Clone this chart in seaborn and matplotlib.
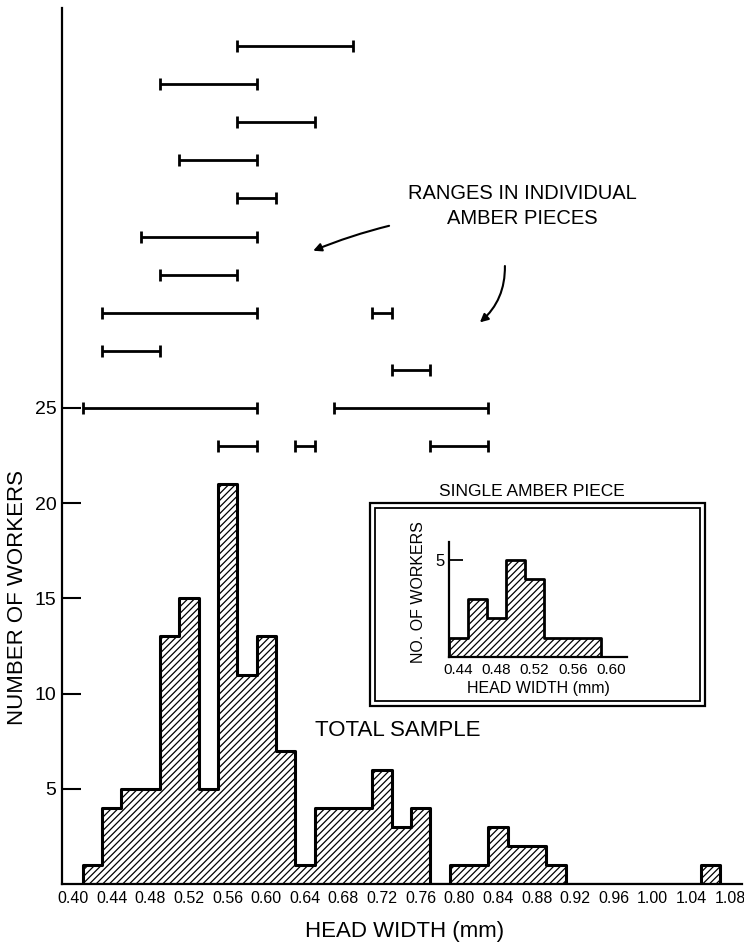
import numpy as np
import pandas as pd
import seaborn as sns
import matplotlib.pyplot as plt
from matplotlib.patches import Rectangle

# total sample: bin centres (mm) and number of workers
bin_centres = [0.42, 0.44, 0.46, 0.48, 0.50, 0.52, 0.54, 0.56, 0.58, 0.60, 0.62,
               0.64, 0.66, 0.68, 0.70, 0.72, 0.74, 0.76, 0.78, 0.80, 0.82, 0.84,
               0.86, 0.88, 0.90, 0.92, 0.94, 0.96, 0.98, 1.00, 1.02, 1.04, 1.06]
counts = [1, 4, 5, 5, 13, 15, 5, 21, 11, 13, 7,
          1, 4, 4, 4, 6, 3, 4, 0, 1, 1, 3,
          2, 2, 1, 0, 0, 0, 0, 0, 0, 0, 1]

# single amber piece
single_centres = [0.44, 0.46, 0.48, 0.50, 0.52, 0.54, 0.56, 0.58]
single_counts = [1, 3, 2, 5, 4, 1, 1, 1]

# ranges in individual amber pieces
range_row = [44, 42, 40, 38, 36, 34, 32, 30, 30, 28, 27, 25, 25, 23, 23, 23]
range_lo = [0.57, 0.49, 0.57, 0.51, 0.57, 0.47, 0.49, 0.43, 0.71, 0.43, 0.73, 0.41, 0.67, 0.55, 0.63, 0.77]
range_hi = [0.69, 0.59, 0.65, 0.59, 0.61, 0.59, 0.57, 0.59, 0.73, 0.49, 0.77, 0.59, 0.83, 0.59, 0.65, 0.83]

x_ticks = [0.40, 0.44, 0.48, 0.52, 0.56, 0.60, 0.64, 0.68, 0.72, 0.76, 0.80, 0.84,
           0.88, 0.92, 0.96, 1.00, 1.04, 1.08]
x_ticklabels = ['0.40', '0.44', '0.48', '0.52', '0.56', '0.60', '0.64', '0.68', '0.72',
                '0.76', '0.80', '0.84', '0.88', '0.92', '0.96', '1.00', '1.04', '1.08']
inset_ticks = [0.44, 0.48, 0.52, 0.56, 0.60]
inset_ticklabels = ['0.44', '0.48', '0.52', '0.56', '0.60']

sns.set_theme(style='white')
plt.rcParams['font.family'] = ['Liberation Sans', 'DejaVu Sans']
plt.rcParams['hatch.linewidth'] = 0.9
for k in ['text.color', 'axes.labelcolor', 'xtick.color', 'ytick.color']:
    plt.rcParams[k] = 'black'

df = pd.DataFrame({'width': bin_centres, 'n': counts})
df_single = pd.DataFrame({'width': single_centres, 'n': single_counts})
df_ranges = pd.DataFrame({'row': range_row, 'lo': range_lo, 'hi': range_hi})

fig = plt.figure(figsize=(7.44, 9.49), dpi=100)
ax = fig.add_axes([0.0833, 0.0685, 0.914, 0.923])

sns.histplot(data=df, x='width', weights='n', binwidth=0.02, binrange=(0.41, 1.07),
             element='step', fill=True, color='white', edgecolor='black', linewidth=2.2,
             hatch='/////', alpha=1, ax=ax)

# range bars
mid = (df_ranges['lo'] + df_ranges['hi']) / 2
half = (df_ranges['hi'] - df_ranges['lo']) / 2
ax.errorbar(mid, df_ranges['row'], xerr=half, fmt='none', ecolor='black',
            elinewidth=2, capsize=4, capthick=2)

ax.set_xlim(0.3886, 1.0925)
ax.set_ylim(0, 46)
sns.despine(ax=ax)
for s in ['left', 'bottom']:
    ax.spines[s].set_linewidth(1.6)
    ax.spines[s].set_color('black')

ax.set_yticks([5, 10, 15, 20, 25])
ax.set_yticklabels(['5', '10', '15', '20', '25'], fontsize=14)
ax.tick_params(axis='y', direction='in', length=14, width=1.5, pad=4, left=True)
ax.set_xticks(x_ticks)
ax.set_xticklabels(x_ticklabels, fontsize=11.5)
ax.tick_params(axis='x', length=0, pad=5)

ax.set_xlabel('HEAD WIDTH (mm)', fontsize=16)
ax.set_ylabel('NUMBER OF WORKERS', fontsize=16)
ax.yaxis.label.set_verticalalignment('center')
ax.xaxis.label.set_verticalalignment('center')
ax.yaxis.set_label_coords(-0.066, 0.3276)
ax.xaxis.set_label_coords(0.504, -0.0537)

ax.text(0.865, 35.6, 'RANGES IN INDIVIDUAL\nAMBER PIECES', ha='center', va='center',
        fontsize=14.5, linespacing=1.4)
ax.text(0.6505, 8.06, 'TOTAL SAMPLE', ha='left', va='center', fontsize=16)

ax.annotate('', xy=(0.646, 33.2), xytext=(0.730, 34.6),
            arrowprops=dict(arrowstyle='-|>', color='black', lw=1.5,
                            connectionstyle='arc3,rad=0.04', mutation_scale=12))
ax.annotate('', xy=(0.819, 29.4), xytext=(0.847, 32.6),
            arrowprops=dict(arrowstyle='-|>', color='black', lw=1.5,
                            connectionstyle='arc3,rad=-0.25', mutation_scale=12))

# inset: single amber piece
fig.add_artist(Rectangle((0.4973, 0.2561), 0.4503, 0.2139, transform=fig.transFigure,
                         fill=False, edgecolor='black', linewidth=1.6))
fig.add_artist(Rectangle((0.5040, 0.2613), 0.4368, 0.2034, transform=fig.transFigure,
                         fill=False, edgecolor='black', linewidth=1.3))
fig.text(0.715, 0.4826, 'SINGLE AMBER PIECE', ha='center', va='center', fontsize=12.5)

ax_in = fig.add_axes([0.6035, 0.3077, 0.2392, 0.1212])
sns.histplot(data=df_single, x='width', weights='n', binwidth=0.02, binrange=(0.43, 0.59),
             element='step', fill=True, color='white', edgecolor='black', linewidth=2.0,
             hatch='/////', alpha=1, ax=ax_in)
ax_in.set_xlim(0.43, 0.617)
ax_in.set_ylim(0, 5.93)
ax_in.set_facecolor('none')
sns.despine(ax=ax_in)
for s in ['left', 'bottom']:
    ax_in.spines[s].set_linewidth(1.6)
    ax_in.spines[s].set_color('black')
ax_in.set_yticks([5])
ax_in.set_yticklabels(['5'], fontsize=12)
ax_in.tick_params(axis='y', direction='in', length=10, width=1.3, pad=3, left=True)
ax_in.set_xticks(inset_ticks)
ax_in.set_xticklabels(inset_ticklabels, fontsize=11)
ax_in.tick_params(axis='x', length=0, pad=4)
ax_in.set_xlabel('HEAD WIDTH (mm)', fontsize=11.5)
ax_in.set_ylabel('NO. OF WORKERS', fontsize=11.5)
ax_in.yaxis.label.set_verticalalignment('center')
ax_in.xaxis.label.set_verticalalignment('center')
ax_in.yaxis.set_label_coords(-0.174, 0.565)
ax_in.xaxis.set_label_coords(0.5, -0.27)

fig.savefig('out.png', dpi=100)
